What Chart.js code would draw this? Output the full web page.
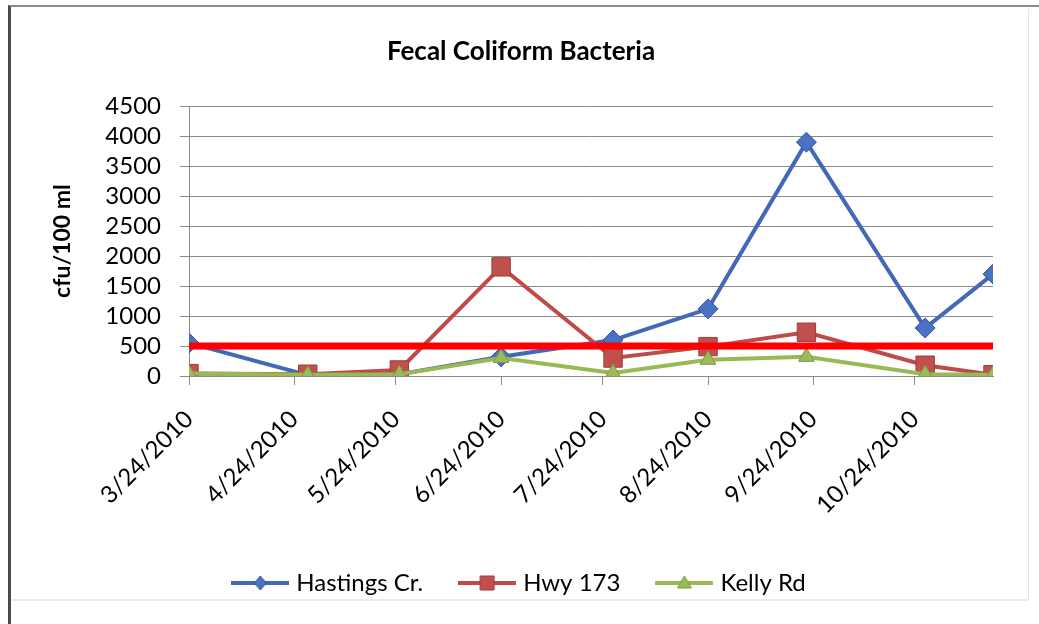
<!DOCTYPE html>
<html>
<head>
<meta charset="utf-8">
<title>Fecal Coliform Bacteria</title>
<script src="https://cdn.jsdelivr.net/npm/chart.js@4.4.1/dist/chart.umd.min.js"></script>
<style>
  html, body { margin: 0; padding: 0; background: #fff; overflow: hidden; }
  #page { position: absolute; left: 8px; top: 5px; width: 1031px; height: 619px;
          border-top: 2px solid #8a8a8a; border-left: 3px solid #4a4a4a; }
  #frame { position: absolute; left: 12px; top: 9px; width: 1016px; height: 590px;
           border-right: 1px solid #e6e6e6; border-bottom: 2px solid #ebebeb; }
  #wrap { position: absolute; left: 12px; top: 8px; width: 1016px; height: 620px; }
</style>
</head>
<body>
<div id="page"></div>
<div id="frame"></div>
<div id="wrap"><canvas id="chart"></canvas></div>
<script>
/* sampling dates and readings (cfu/100 ml) */
const SAMPLE_DATES = [
  "2010-03-24", "2010-04-28", "2010-05-25", "2010-06-24", "2010-07-27",
  "2010-08-24", "2010-09-22", "2010-10-27", "2010-11-16",
];
const TICK_DATES = [
  "2010-03-24", "2010-04-24", "2010-05-24", "2010-06-24",
  "2010-07-24", "2010-08-24", "2010-09-24", "2010-10-24",
];
const HASTINGS = [550, 15, 30, 320, 600, 1120, 3900, 800, 1700];
const HWY_173 = [40, 30, 100, 1820, 300, 490, 730, 180, 20];
const KELLY_RD = [40, 20, 30, 300, 50, 270, 320, 30, 20];
const STANDARD = 500;
const Y_MAX = 4500;
const Y_STEP = 500;

const FONT = "Lato, 'Open Sans', 'DejaVu Sans', sans-serif";
const GRID = "#8a8a8a";

const DAY = 86400000;
const toDay = (s) => Date.parse(s + "T00:00:00Z") / DAY;
const fmtDay = (d) => {
  const t = new Date(Math.round(d) * DAY);
  return `${t.getUTCMonth() + 1}/${t.getUTCDate()}/${t.getUTCFullYear()}`;
};
const toPoints = (vals) => SAMPLE_DATES.map((d, i) => ({ x: toDay(d), y: vals[i] }));

const X_MIN = toDay(SAMPLE_DATES[0]);
const X_MAX = toDay(SAMPLE_DATES[SAMPLE_DATES.length - 1]);

const SERIES = [
  { label: "Hastings Cr.", data: HASTINGS, line: "#4169b8", fill: "#4a72c2", edge: "#33559e", style: "rectRot", r: 10 },
  { label: "Hwy 173", data: HWY_173, line: "#be4b48", fill: "#c0504d", edge: "#9c3b39", style: "rect", r: 13 },
  { label: "Kelly Rd", data: KELLY_RD, line: "#98b954", fill: "#9bbb59", edge: "#7d9a40", style: "triangle", r: 9 },
];

// legend swatch: line with marker in the middle, like the spreadsheet legend
function swatch(s) {
  const c = document.createElement("canvas");
  c.width = 58; c.height = 20;
  const g = c.getContext("2d");
  g.strokeStyle = s.line; g.lineWidth = 4;
  g.beginPath(); g.moveTo(0, 10); g.lineTo(58, 10); g.stroke();
  g.fillStyle = s.fill; g.strokeStyle = s.edge; g.lineWidth = 1;
  g.beginPath();
  if (s.style === "rectRot") {
    g.moveTo(29, 3); g.lineTo(35, 10); g.lineTo(29, 17); g.lineTo(23, 10);
  } else if (s.style === "rect") {
    g.rect(22, 3, 14, 14);
  } else {
    g.moveTo(29, 3); g.lineTo(36, 15); g.lineTo(22, 15);
  }
  g.closePath(); g.fill(); g.stroke();
  return c;
}

const datasets = [
  {
    label: "standard",
    data: [{ x: X_MIN, y: STANDARD }, { x: X_MAX, y: STANDARD }],
    borderColor: "#ff0000",
    borderWidth: 7,
    pointRadius: 0,
    order: 0,
  },
  ...SERIES.map((s, i) => ({
    label: s.label,
    data: toPoints(s.data),
    borderColor: s.line,
    borderWidth: 4,
    pointStyle: s.style,
    pointRadius: s.r,
    pointBackgroundColor: s.fill,
    pointBorderColor: s.edge,
    pointBorderWidth: 1,
    order: 3 - i,
    _swatch: swatch(s),
  })),
];

new Chart(document.getElementById("chart"), {
  type: "line",
  data: { datasets },
  options: {
    responsive: true,
    maintainAspectRatio: false,
    animation: false,
    layout: { padding: { top: 6, left: 37, right: 35, bottom: 23 } },
    plugins: {
      title: {
        display: true,
        text: "Fecal Coliform Bacteria",
        color: "#000",
        font: { family: FONT, size: 26, weight: "bold" },
        padding: { top: 22, bottom: 39 },
      },
      legend: {
        position: "bottom",
        labels: {
          color: "#000",
          font: { family: FONT, size: 24 },
          usePointStyle: true,
          pointStyleWidth: 48,
          padding: 40,
          generateLabels: (chart) =>
            chart.data.datasets
              .map((ds, i) => ({ ds, i }))
              .filter(({ ds }) => ds._swatch)
              .map(({ ds, i }) => ({
                text: ds.label,
                pointStyle: ds._swatch,
                fillStyle: ds.borderColor,
                strokeStyle: ds.borderColor,
                lineWidth: 0,
                fontColor: "#000",
                hidden: false,
                datasetIndex: i,
              })),
        },
      },
      tooltip: { enabled: false },
    },
    scales: {
      x: {
        type: "linear",
        min: X_MIN,
        max: X_MAX,
        afterBuildTicks: (scale) => {
          scale.ticks = TICK_DATES.map((d) => ({ value: toDay(d) }));
        },
        afterFit: (scale) => { scale.height = 155; },
        grid: { drawOnChartArea: false, color: GRID, tickLength: 9 },
        border: { color: GRID },
        ticks: {
          color: "#000",
          font: { family: FONT, size: 24 },
          autoSkip: false,
          maxRotation: 45,
          minRotation: 45,
          padding: 20,
          callback: (v) => fmtDay(v),
        },
      },
      y: {
        min: 0,
        max: Y_MAX,
        afterBuildTicks: (scale) => {
          const t = [];
          for (let v = 0; v <= Y_MAX; v += Y_STEP) t.push({ value: v });
          scale.ticks = t;
        },
        afterFit: (scale) => { scale.width = 140; },
        grid: { color: GRID, tickLength: 9 },
        border: { color: GRID },
        ticks: {
          color: "#000",
          font: { family: FONT, size: 24 },
          autoSkip: false,
          padding: 19,
          callback: (v) => String(v),
        },
        title: {
          display: true,
          text: "cfu/100 ml",
          color: "#000",
          font: { family: FONT, size: 23, weight: "bold" },
          padding: { top: 0, bottom: 0 },
        },
      },
    },
  },
});
</script>
</body>
</html>
